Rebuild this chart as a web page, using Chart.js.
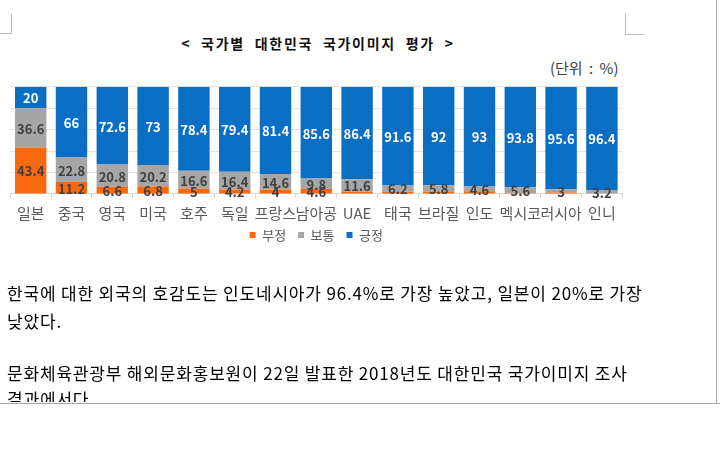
<!DOCTYPE html>
<html><head><meta charset="utf-8">
<script src="https://cdn.jsdelivr.net/npm/chart.js@4.4.1/dist/chart.umd.min.js"></script>
<style>
html,body{margin:0;padding:0;background:#fff;width:720px;height:460px;overflow:hidden;}
#wrap{position:relative;width:720px;height:460px;}
#c{position:absolute;left:0;top:0;}
.t{position:absolute;white-space:nowrap;font-family:"Noto Sans CJK KR","Noto Sans",sans-serif;}
#title{left:0;width:636px;top:33px;line-height:20px;text-align:center;font-size:14px;font-weight:bold;letter-spacing:1.7px;word-spacing:5px;color:#111;}
#unit{left:550px;top:59px;line-height:18px;font-size:15px;word-spacing:3px;color:#404040;}
#doc{position:absolute;left:0;top:0;width:716px;height:402px;overflow:hidden;}
#doc .t{font-size:17px;line-height:24px;color:#000;left:7px;letter-spacing:0.82px;}
.ln{position:absolute;background:#BDBDBD;}
</style></head>
<body><div id="wrap">
<div class="ln" style="left:11px;top:14px;width:1px;height:20px;"></div>
<div class="ln" style="left:0px;top:33px;width:12px;height:1px;"></div>
<div class="ln" style="left:625px;top:14px;width:1px;height:21px;"></div>
<div class="ln" style="left:625px;top:34px;width:19px;height:1px;"></div>
<div class="t" id="title">&lt; 국가별 대한민국 국가이미지 평가 &gt;</div>
<div class="t" id="unit">(단위 : %)</div>
<canvas id="c" width="720" height="270"></canvas>
<div id="doc">
<div class="t" style="top:281px;">한국에 대한 외국의 호감도는 인도네시아가 96.4%로 가장 높았고, 일본이 20%로 가장</div>
<div class="t" style="top:309px;">낮았다.</div>
<div class="t" style="top:361px;">문화체육관광부 해외문화홍보원이 22일 발표한 2018년도 대한민국 국가이미지 조사</div>
<div class="t" style="top:387px;">결과에서다.</div>
</div>
<div class="ln" style="left:716px;top:0;width:1px;height:404px;background:#A8A8A8;"></div>
<div class="ln" style="left:0;top:403px;width:720px;height:1px;background:#A8A8A8;"></div>
</div>
<script>
const categories = ['일본','중국','영국','미국','호주','독일','프랑스','남아공','UAE','태국','브라질','인도','멕시코','러시아','인니'];
const negative = [43.4, 11.2, 6.6, 6.8, 5, 4.2, 4, 4.6, 2, 2.2, 2.2, 2.4, 0.6, 1.4, 0.4];
const neutral  = [36.6, 22.8, 20.8, 20.2, 16.6, 16.4, 14.6, 9.8, 11.6, 6.2, 5.8, 4.6, 5.6, 3, 3.2];
const positive = [20, 66, 72.6, 73, 78.4, 79.4, 81.4, 85.6, 86.4, 91.6, 92, 93, 93.8, 95.6, 96.4];
const seriesNames = ['부정','보통','긍정'];
const yMin = 0, yMax = 100, yStep = 20;

const FONT = '"Noto Sans CJK KR","Noto Sans",sans-serif';
const colors = ['#F86A10','#A6A6A6','#0A6EC4'];

const segLabels = {
  id: 'segLabels',
  afterDatasetsDraw(chart) {
    const ctx = chart.ctx;
    chart.data.datasets.forEach((ds, i) => {
      const meta = chart.getDatasetMeta(i);
      meta.data.forEach((bar, j) => {
        const v = ds.data[j];
        if (v < 3) return;
        const p = bar.getProps(['x','y','base'], true);
        ctx.save();
        ctx.font = 'bold 13px ' + FONT;
        ctx.fillStyle = i === 2 ? '#FFFFFF' : '#404040';
        ctx.textAlign = 'center';
        ctx.textBaseline = 'middle';
        ctx.fillText(String(v), p.x, (p.y + p.base) / 2 + 1);
        ctx.restore();
      });
    });
  }
};

// pull the legend up closer to the category labels
const legendShift = {
  id: 'legendShift',
  afterLayout(chart) {
    const lg = chart.legend;
    if (lg) { lg.top -= 12; lg.bottom -= 12; }
  }
};

new Chart(document.getElementById('c'), {
  type: 'bar',
  data: {
    labels: categories,
    datasets: [
      { label: seriesNames[0], data: negative, backgroundColor: colors[0] },
      { label: seriesNames[1], data: neutral, backgroundColor: colors[1] },
      { label: seriesNames[2], data: positive, backgroundColor: colors[2] }
    ]
  },
  options: {
    responsive: false,
    animation: false,
    devicePixelRatio: 1,
    datasets: { bar: { barPercentage: 0.77, categoryPercentage: 1.0 } },
    layout: { padding: { left: 10.3, right: 97.7, top: 86.7, bottom: 6.6 } },
    scales: {
      x: {
        stacked: true,
        grid: { display: true, drawOnChartArea: false, drawTicks: true, tickLength: 4, color: '#D9D9D9', offset: true },
        border: { display: true, color: '#D9D9D9' },
        ticks: { font: { family: FONT, size: 15, lineHeight: 1.1 }, color: '#595959', padding: 7, maxRotation: 0, autoSkip: false }
      },
      y: {
        stacked: true,
        min: yMin, max: yMax,
        ticks: { display: false, stepSize: yStep },
        grid: { color: '#E4E4E4', drawTicks: false },
        border: { display: false }
      }
    },
    plugins: {
      legend: {
        position: 'bottom',
        labels: { boxWidth: 6, boxHeight: 6, padding: 12, color: '#595959', font: { family: FONT, size: 13 } }
      },
      tooltip: { enabled: false },
      title: { display: false }
    }
  },
  plugins: [segLabels, legendShift]
});
</script>
</body></html>
